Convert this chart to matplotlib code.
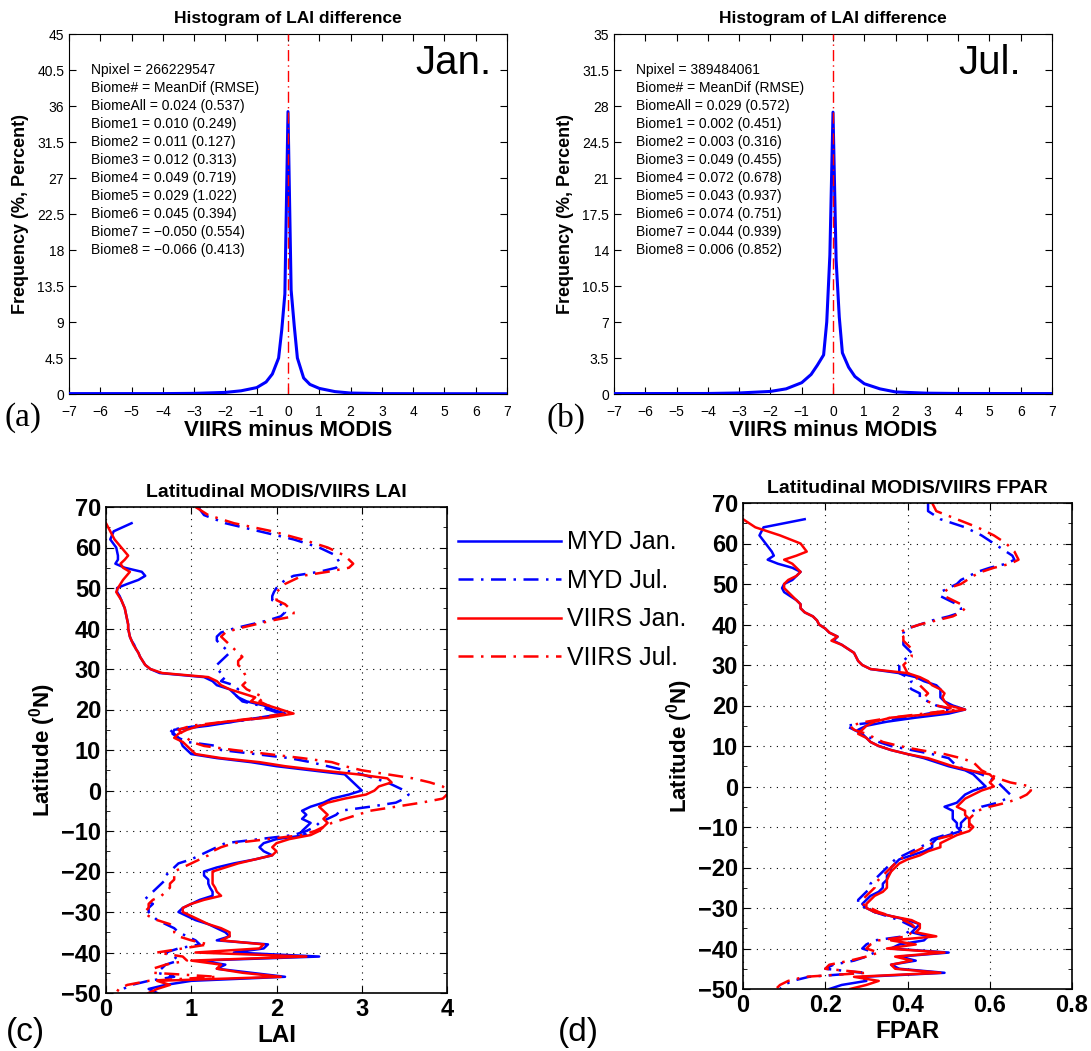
import numpy as np
import matplotlib.pyplot as plt
from matplotlib.ticker import MultipleLocator, FormatStrFormatter

plt.rcParams['font.family'] = ['Liberation Sans', 'DejaVu Sans']
plt.rcParams['mathtext.default'] = 'regular'

# ---- histogram of LAI difference (VIIRS minus MODIS) ----
diff_bins = [-7, -4, -3, -2, -1.5, -1, -0.7, -0.5, -0.3, -0.2, -0.1, 0,
             0.1, 0.2, 0.3, 0.5, 0.7, 1, 1.5, 2, 3, 4, 7]
freq_jan = [0.05, 0.05, 0.08, 0.2, 0.4, 0.8, 1.5, 2.5, 4.5, 8.0, 12.5, 35.3,
            13, 8.5, 4.5, 2.0, 1.2, 0.7, 0.3, 0.12, 0.05, 0.04, 0.03]
freq_jul = [0.04, 0.05, 0.1, 0.25, 0.5, 1.1, 1.9, 2.8, 3.8, 7.0, 13.5, 27.4,
            13, 7.5, 4.0, 2.6, 1.7, 1.0, 0.5, 0.2, 0.08, 0.05, 0.04]

npixel_jan = 266229547
npixel_jul = 389484061
biome_names = ['BiomeAll', 'Biome1', 'Biome2', 'Biome3', 'Biome4',
               'Biome5', 'Biome6', 'Biome7', 'Biome8']
meandif_jan = [0.024, 0.010, 0.011, 0.012, 0.049, 0.029, 0.045, -0.050, -0.066]
rmse_jan = [0.537, 0.249, 0.127, 0.313, 0.719, 1.022, 0.394, 0.554, 0.413]
meandif_jul = [0.029, 0.002, 0.003, 0.049, 0.072, 0.043, 0.074, 0.044, 0.006]
rmse_jul = [0.572, 0.451, 0.316, 0.455, 0.678, 0.937, 0.751, 0.939, 0.852]

# ---- latitudinal profiles ----
nan = np.nan
lat = [70, 68, 66, 64, 62, 60, 58] + list(range(57, -51, -1))

# LAI
myd_jan_lai = [nan, nan, 0.30, 0.09, 0.05, 0.12, 0.14,
               0.14, 0.11, 0.22, 0.42, 0.46, 0.38, 0.25, 0.13, 0.13, 0.16,
               0.18, 0.20, 0.22, 0.23, 0.24, 0.25, 0.26, 0.26, 0.27, 0.28,
               0.30, 0.33, 0.35, 0.38, 0.40, 0.43, 0.46, 0.52, 0.63, 1.15,
               1.25, 1.30, 1.45, 1.50, 1.55, 1.65, 1.85, 1.95, 2.10, 1.80,
               1.50, 1.20, 0.80, 0.78, 0.85, 0.88, 0.90, 0.95, 1.00, 1.30,
               1.70, 2.00, 2.40, 2.80, 2.85, 2.90, 2.95, 3.00, 2.85, 2.65,
               2.55, 2.40, 2.30, 2.35, 2.30, 2.40, 2.35, 2.30, 2.35, 2.00,
               1.85, 1.80, 1.85, 1.95, 1.75, 1.50, 1.30, 1.15, 1.15, 1.20,
               1.20, 1.22, 1.25, 1.25, 1.10, 1.00, 0.90, 0.85, 0.95, 1.05,
               1.20, 1.30, 1.40, 1.45, 1.30, 1.90, 1.85, 1.50, 2.50, 1.10,
               1.40, 1.30, 1.70, 2.10, 1.00, 0.70, 0.50, 0.60]
myd_jul_lai = [1.08, 1.15, 1.40, 1.80, 2.20, 2.50, 2.70,
               2.72, 2.75, 2.70, 2.50, 2.20, 2.10, 2.05, 2.00, 1.97, 1.95,
               1.95, 2.05, 2.08, 2.10, 2.05, 1.90, 1.70, 1.50, 1.35, 1.30,
               1.30, 1.35, 1.40, 1.45, 1.40, 1.35, 1.30, 1.30, 1.35, 1.40,
               1.35, 1.50, 1.55, 1.50, 1.55, 1.60, 1.80, 1.90, 2.05, 1.85,
               1.50, 1.10, 0.75, 0.80, 0.85, 0.95, 1.30, 1.35, 1.75, 2.15,
               2.40, 2.60, 2.80, 3.00, 3.15, 3.30, 3.40, 3.50, 3.55, 3.50,
               3.40, 3.10, 2.75, 2.70, 2.60, 2.50, 2.45, 2.35, 2.20, 1.80,
               1.40, 1.30, 1.20, 1.10, 1.00, 0.85, 0.80, 0.75, 0.70, 0.70,
               0.65, 0.60, 0.55, 0.50, 0.45, 0.55, 0.50, 0.50, 0.55, 0.60,
               0.70, 0.80, 0.85, 0.95, 1.05, 1.10, 0.85, 0.70, 0.80, 0.85,
               0.70, 0.65, 0.60, 0.80, 0.50, 0.30, 0.20, 0.15]
viirs_jan_lai = [nan, nan, 0.00, 0.05, 0.10, 0.18, 0.26,
                 0.22, 0.17, 0.20, 0.28, 0.24, 0.20, 0.17, 0.14, 0.12, 0.15,
                 0.18, 0.20, 0.22, 0.23, 0.24, 0.25, 0.26, 0.26, 0.27, 0.28,
                 0.30, 0.32, 0.35, 0.38, 0.40, 0.43, 0.46, 0.52, 0.66, 1.20,
                 1.30, 1.35, 1.45, 1.60, 1.75, 1.70, 1.90, 2.05, 2.20, 1.90,
                 1.40, 1.10, 0.95, 0.85, 0.80, 0.90, 0.95, 1.00, 1.05, 1.35,
                 1.80, 2.10, 2.50, 2.95, 3.30, 3.35, 3.20, 3.15, 3.05, 2.80,
                 2.60, 2.50, 2.55, 2.60, 2.55, 2.60, 2.55, 2.50, 2.40, 2.15,
                 2.00, 1.95, 2.00, 1.95, 1.75, 1.55, 1.40, 1.25, 1.25, 1.25,
                 1.25, 1.28, 1.30, 1.35, 1.15, 1.00, 0.90, 0.90, 1.00, 1.10,
                 1.20, 1.35, 1.45, 1.45, 1.35, 1.85, 1.80, 1.05, 2.35, 1.00,
                 1.35, 1.30, 1.60, 2.05, 0.60, 0.75, 0.60, 0.50]
viirs_jul_lai = [1.05, 1.20, 1.50, 1.95, 2.30, 2.60, 2.80,
                 2.85, 2.90, 2.85, 2.60, 2.30, 2.20, 2.10, 2.05, 2.00, 2.00,
                 2.00, 2.10, 2.15, 2.20, 2.20, 1.95, 1.75, 1.55, 1.40, 1.35,
                 1.40, 1.45, 1.50, 1.55, 1.60, 1.55, 1.55, 1.60, 1.62, 1.65,
                 1.65, 1.60, 1.65, 1.75, 1.85, 1.80, 1.90, 2.05, 2.10, 1.80,
                 1.40, 1.00, 0.85, 0.90, 0.95, 1.00, 1.15, 1.50, 1.90, 2.30,
                 2.65, 2.80, 3.00, 3.30, 3.60, 3.80, 3.95, 4.00, 4.00, 3.95,
                 3.70, 3.40, 3.10, 2.95, 2.80, 2.65, 2.55, 2.45, 2.30, 1.90,
                 1.50, 1.35, 1.25, 1.20, 1.10, 1.00, 0.90, 0.80, 0.80, 0.80,
                 0.75, 0.75, 0.70, 0.65, 0.55, 0.50, 0.50, 0.45, 0.50, 0.60,
                 0.75, 0.80, 0.80, 0.85, 1.00, 1.20, 0.90, 0.60, 0.90, 0.95,
                 0.70, 0.55, 0.55, 1.30, 0.50, 0.25, 0.15, 0.12]

# FPAR
myd_jan_fpar = [nan, nan, 0.15, 0.05, 0.04, 0.055, 0.07,
                0.075, 0.06, 0.085, 0.12, 0.14, 0.13, 0.12, 0.10, 0.095, 0.10,
                0.115, 0.13, 0.14, 0.14, 0.15, 0.17, 0.18, 0.185, 0.20, 0.21,
                0.23, 0.22, 0.24, 0.255, 0.27, 0.275, 0.28, 0.29, 0.31, 0.38,
                0.42, 0.44, 0.47, 0.48, 0.48, 0.48, 0.49, 0.51, 0.54, 0.50,
                0.42, 0.35, 0.30, 0.28, 0.29, 0.30, 0.31, 0.33, 0.36, 0.40,
                0.44, 0.47, 0.50, 0.54, 0.56, 0.57, 0.58, 0.59, 0.56, 0.54,
                0.53, 0.52, 0.49, 0.51, 0.51, 0.51, 0.52, 0.52, 0.53, 0.50,
                0.47, 0.46, 0.46, 0.44, 0.41, 0.38, 0.37, 0.36, 0.36, 0.35,
                0.35, 0.34, 0.34, 0.33, 0.31, 0.30, 0.29, 0.30, 0.32, 0.36,
                0.40, 0.43, 0.42, 0.41, 0.45, 0.44, 0.38, 0.36, 0.50, 0.38,
                0.42, 0.36, 0.38, 0.49, 0.29, 0.30, 0.24, 0.21]
myd_jul_fpar = [0.45, 0.45, 0.48, 0.54, 0.58, 0.61, 0.64,
                0.655, 0.66, 0.64, 0.60, 0.57, 0.55, 0.53, 0.52, 0.50, 0.48,
                0.48, 0.50, 0.52, 0.53, 0.53, 0.50, 0.46, 0.43, 0.40, 0.39,
                0.39, 0.39, 0.39, 0.40, 0.41, 0.40, 0.39, 0.38, 0.38, 0.38,
                0.40, 0.41, 0.40, 0.41, 0.43, 0.43, 0.45, 0.47, 0.51, 0.45,
                0.40, 0.33, 0.25, 0.27, 0.29, 0.31, 0.33, 0.36, 0.41, 0.46,
                0.50, 0.51, 0.52, 0.55, 0.58, 0.60, 0.62, 0.63, 0.64, 0.65,
                0.64, 0.62, 0.58, 0.56, 0.55, 0.54, 0.53, 0.53, 0.52, 0.49,
                0.46, 0.45, 0.43, 0.41, 0.39, 0.37, 0.36, 0.35, 0.34, 0.33,
                0.32, 0.31, 0.31, 0.30, 0.29, 0.28, 0.28, 0.30, 0.32, 0.35,
                0.38, 0.40, 0.42, 0.40, 0.39, 0.32, 0.30, 0.29, 0.32, 0.30,
                0.27, 0.22, 0.20, 0.29, 0.16, 0.12, 0.10, 0.09]
viirs_jan_fpar = [nan, nan, 0.00, 0.03, 0.09, 0.14, 0.155,
                  0.13, 0.10, 0.12, 0.13, 0.14, 0.13, 0.11, 0.10, 0.10, 0.11,
                  0.12, 0.13, 0.14, 0.14, 0.15, 0.17, 0.18, 0.185, 0.20, 0.21,
                  0.23, 0.215, 0.24, 0.255, 0.27, 0.275, 0.28, 0.29, 0.31, 0.40,
                  0.43, 0.45, 0.46, 0.48, 0.49, 0.485, 0.49, 0.50, 0.54, 0.47,
                  0.36, 0.32, 0.30, 0.29, 0.28, 0.30, 0.31, 0.33, 0.36, 0.40,
                  0.45, 0.48, 0.51, 0.55, 0.60, 0.61, 0.60, 0.61, 0.58, 0.56,
                  0.54, 0.53, 0.52, 0.54, 0.54, 0.55, 0.55, 0.56, 0.55, 0.52,
                  0.50, 0.48, 0.48, 0.45, 0.43, 0.40, 0.38, 0.37, 0.36, 0.355,
                  0.35, 0.35, 0.35, 0.34, 0.32, 0.31, 0.30, 0.30, 0.32, 0.36,
                  0.41, 0.43, 0.43, 0.42, 0.47, 0.36, 0.42, 0.35, 0.49, 0.37,
                  0.41, 0.36, 0.37, 0.48, 0.27, 0.33, 0.30, 0.26]
viirs_jul_fpar = [0.46, 0.47, 0.52, 0.57, 0.61, 0.64, 0.66,
                  0.665, 0.67, 0.65, 0.61, 0.58, 0.56, 0.545, 0.53, 0.50, 0.49,
                  0.49, 0.51, 0.53, 0.54, 0.53, 0.51, 0.47, 0.43, 0.40, 0.38,
                  0.39, 0.39, 0.40, 0.41, 0.41, 0.41, 0.40, 0.39, 0.395, 0.40,
                  0.42, 0.43, 0.43, 0.44, 0.45, 0.44, 0.45, 0.47, 0.52, 0.44,
                  0.36, 0.30, 0.26, 0.27, 0.30, 0.32, 0.34, 0.38, 0.43, 0.49,
                  0.53, 0.56, 0.57, 0.58, 0.60, 0.62, 0.65, 0.70, 0.70, 0.69,
                  0.67, 0.64, 0.60, 0.57, 0.56, 0.55, 0.55, 0.55, 0.54, 0.51,
                  0.47, 0.46, 0.44, 0.42, 0.40, 0.38, 0.37, 0.36, 0.35, 0.34,
                  0.33, 0.32, 0.32, 0.31, 0.30, 0.29, 0.29, 0.31, 0.33, 0.36,
                  0.39, 0.41, 0.42, 0.41, 0.40, 0.33, 0.31, 0.30, 0.33, 0.30,
                  0.26, 0.21, 0.20, 0.30, 0.15, 0.11, 0.09, 0.08]

legend_labels = ['MYD Jan.', 'MYD Jul.', 'VIIRS Jan.', 'VIIRS Jul.']

W, H = 1091, 1051
fig = plt.figure(figsize=(W / 100, H / 100), dpi=100)


def px_axes(x0, y0, x1, y1):
    # axes from pixel box (top-left origin)
    return fig.add_axes([x0 / W, 1 - y1 / H, (x1 - x0) / W, (y1 - y0) / H])


def fmt(v):
    return ('%.3f' % v).replace('-', '\u2212')


def hist_panel(ax, freq, ymax, ystep, npix, mdif, rmse, month, mx):
    ax.plot(diff_bins, freq, color='#0000ff', lw=2.2, zorder=3)
    ax.plot([0, 0], [0, ymax], color='red', lw=1.0, ls=(0, (8, 3, 1, 3)), zorder=4)
    ax.set_xlim(-7, 7)
    ax.set_ylim(0, ymax)
    ax.xaxis.set_major_locator(MultipleLocator(1))
    ax.yaxis.set_major_locator(MultipleLocator(ystep))
    ax.yaxis.set_major_formatter(FormatStrFormatter('%g'))
    ax.tick_params(direction='in', top=True, right=True, length=5, labelsize=10)
    ax.tick_params(axis='x', pad=8)
    ax.set_title('Histogram of LAI difference', fontsize=12.5, fontweight='bold', pad=8)
    ax.set_xlabel('VIIRS minus MODIS', fontsize=16, fontweight='bold', labelpad=1)
    ax.set_ylabel('Frequency (%, Percent)', fontsize=13, fontweight='bold', labelpad=6)
    lines = ['Npixel = %d' % npix, 'Biome# = MeanDif (RMSE)']
    for name, m, r in zip(biome_names, mdif, rmse):
        lines.append('%s = %s (%.3f)' % (name, fmt(m), r))
    for i, s in enumerate(lines):
        ax.text(0.05, 0.90 - i * 0.05, s, fontsize=10, va='center',
                transform=ax.transAxes)
    ax.text(mx, 0.92, month, fontsize=29, ha='right', va='center',
            transform=ax.transAxes)


ax1 = px_axes(69, 34, 507, 394)
hist_panel(ax1, freq_jan, 45, 4.5, npixel_jan, meandif_jan, rmse_jan, 'Jan.', 0.965)
ax2 = px_axes(614, 34, 1052, 394)
hist_panel(ax2, freq_jul, 35, 3.5, npixel_jul, meandif_jul, rmse_jul, 'Jul.', 0.93)


def lat_panel(ax, series, xmax, xstep, title, xlabel):
    styles = [('#0000ff', '-'), ('#0000ff', (0, (6, 3, 1, 3))),
              ('red', '-'), ('red', (0, (6, 3, 1, 3)))]
    handles = []
    for vals, (c, ls), lab in zip(series, styles, legend_labels):
        h, = ax.plot(vals, lat, color=c, ls=ls, lw=1.8, label=lab)
        handles.append(h)
    ax.set_xlim(0, xmax)
    ax.set_ylim(-50, 70)
    ax.xaxis.set_major_locator(MultipleLocator(xstep))
    ax.xaxis.set_major_formatter(FormatStrFormatter('%g'))
    ax.yaxis.set_major_locator(MultipleLocator(10))
    ax.yaxis.set_minor_locator(MultipleLocator(5))
    ax.tick_params(which='both', direction='in', top=True, right=True)
    ax.tick_params(which='major', length=5, labelsize=17)
    ax.tick_params(which='minor', length=3)
    for lbl in ax.get_xticklabels() + ax.get_yticklabels():
        lbl.set_fontweight('bold')
    ax.grid(True, which='major', color='black', lw=0.8, ls=(0, (1, 5)))
    for s in ax.spines.values():
        s.set_linewidth(1.2)
    ax.set_title(title, fontsize=14, fontweight='bold', pad=7)
    ax.set_xlabel(xlabel, fontsize=17.5, fontweight='bold', labelpad=2)
    ax.set_ylabel(r'Latitude ($^{0}$N)', fontsize=16, fontweight='bold', labelpad=2)
    return handles


ax3 = px_axes(106, 507, 447, 993)
handles = lat_panel(ax3, [myd_jan_lai, myd_jul_lai, viirs_jan_lai, viirs_jul_lai],
                    4, 1, 'Latitudinal MODIS/VIIRS LAI', 'LAI')
ax4 = px_axes(743, 503, 1072, 989)
lat_panel(ax4, [myd_jan_fpar, myd_jul_fpar, viirs_jan_fpar, viirs_jul_fpar],
          0.8, 0.2, 'Latitudinal MODIS/VIIRS FPAR', 'FPAR')

fig.legend(handles, legend_labels, loc='center left',
           bbox_to_anchor=(458 / W, 1 - 600 / H), frameon=False,
           borderpad=0, borderaxespad=0,
           fontsize=18, handlelength=4.1, handletextpad=0.25, labelspacing=0.58)

# panel letters
fig.text(4 / W, 1 - 418 / H, '(a)', fontsize=24, family='Liberation Serif', va='center')
fig.text(546 / W, 1 - 418 / H, '(b)', fontsize=24, family='Liberation Serif', va='center')
fig.text(6 / W, 1 - 1032 / H, '(c)', fontsize=24, va='center')
fig.text(558 / W, 1 - 1032 / H, '(d)', fontsize=24, va='center')

fig.savefig('out.png', dpi=100)
